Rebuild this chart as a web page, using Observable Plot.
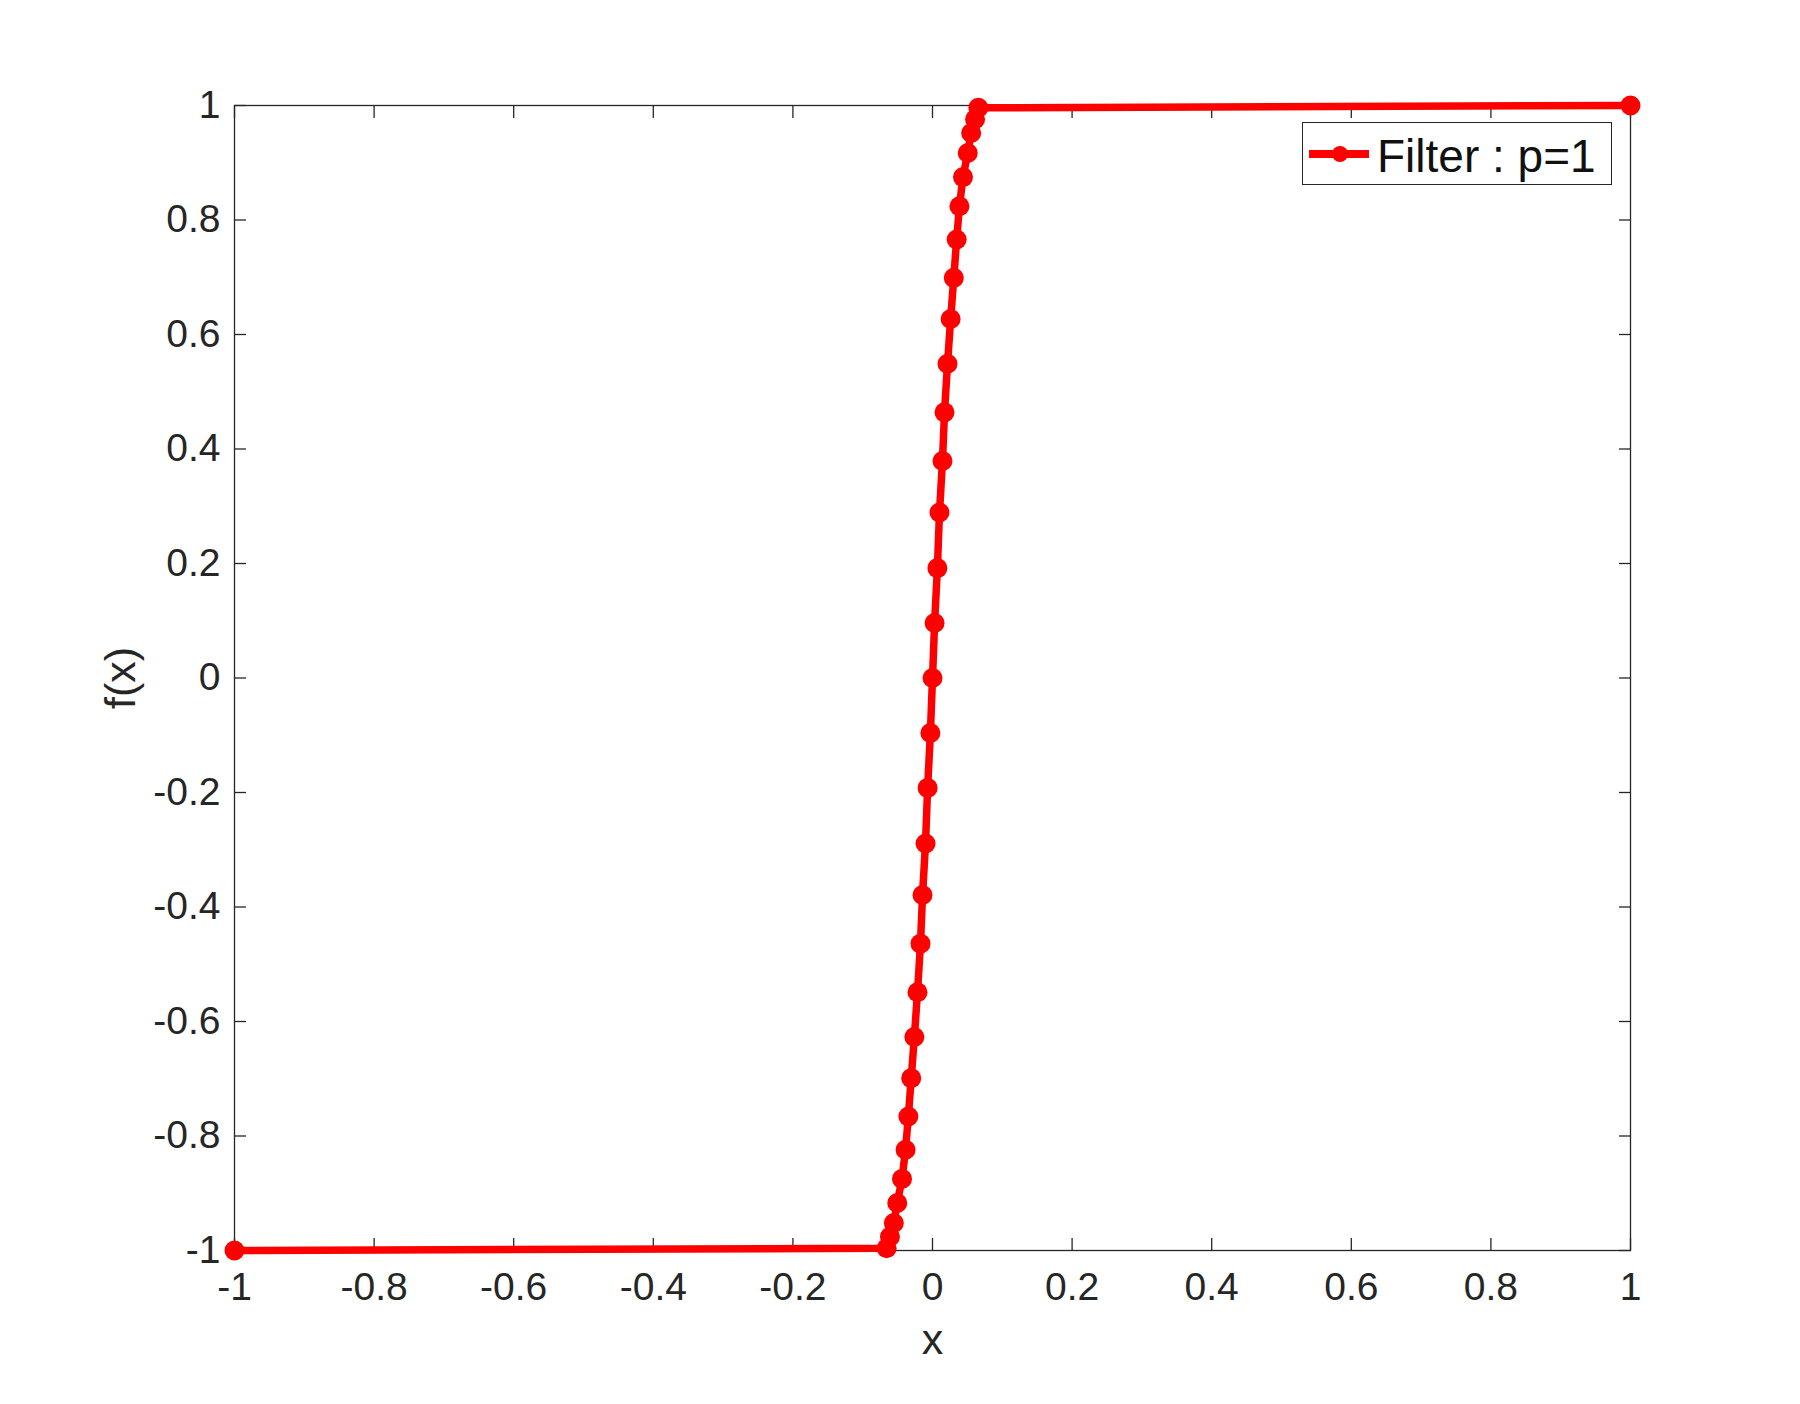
<!DOCTYPE html>
<html>
<head>
<meta charset="utf-8">
<script src="https://cdn.jsdelivr.net/npm/d3@7"></script>
<script src="https://cdn.jsdelivr.net/npm/@observablehq/plot@0.6"></script>
<style>
  html, body { margin: 0; padding: 0; background: #fff; }
  #wrap { position: relative; width: 1800px; height: 1404px; }
  #legend {
    position: absolute; left: 1302px; top: 122px; width: 310px; height: 63px;
    border: 1.3px solid #262626; background: #fff; box-sizing: border-box;
    font-family: 'Liberation Sans', Arial, Helvetica, sans-serif;
  }
</style>
</head>
<body>
<div id="wrap"></div>
<script>
// Data
const xValues = [-1, -0.0657, -0.061, -0.0554, -0.0505, -0.0437, -0.0386, -0.0346, -0.0305, -0.026, -0.0215, -0.0172, -0.0143, -0.010, -0.007, -0.003, 0, 0.003, 0.007, 0.010, 0.0143, 0.0172, 0.0215, 0.026, 0.0305, 0.0346, 0.0386, 0.0437, 0.0505, 0.0554, 0.061, 0.0657, 1];
const yValues = [-1, -0.996, -0.976, -0.952, -0.917, -0.875, -0.824, -0.766, -0.699, -0.627, -0.549, -0.464, -0.379, -0.289, -0.192, -0.096, 0, 0.096, 0.192, 0.289, 0.379, 0.464, 0.549, 0.627, 0.699, 0.766, 0.824, 0.875, 0.917, 0.952, 0.976, 0.996, 1];
const xTicks = [-1, -0.8, -0.6, -0.4, -0.2, 0, 0.2, 0.4, 0.6, 0.8, 1];
const yTicks = [-1, -0.8, -0.6, -0.4, -0.2, 0, 0.2, 0.4, 0.6, 0.8, 1];
const seriesName = "Filter : p=1";
const xLabel = "x";
const yLabel = "f(x)";

const data = xValues.map((x, i) => ({x, y: yValues[i]}));
const axisColor = "#262626";
const red = "#ff0000";
const fmt = d => String(d);

const chart = Plot.plot({
  width: 1800,
  height: 1404,
  marginLeft: 234,
  marginRight: 170,
  marginTop: 105,
  marginBottom: 154,
  style: {fontFamily: "'Liberation Sans', Arial, Helvetica, sans-serif", fontSize: "39px", color: axisColor, background: "#fff"},
  x: {domain: [-1, 1]},
  y: {domain: [-1, 1]},
  marks: [
    // inward ticks on all four sides
    Plot.axisX(xTicks, {anchor: "bottom", tickSize: 12, dy: -12, fill: "none", stroke: axisColor, strokeWidth: 1.3}),
    Plot.axisX(xTicks, {anchor: "top", tickSize: 12, dy: 12, fill: "none", stroke: axisColor, strokeWidth: 1.3}),
    Plot.axisY(yTicks, {anchor: "left", tickSize: 12, dx: 12, fill: "none", stroke: axisColor, strokeWidth: 1.3}),
    Plot.axisY(yTicks, {anchor: "right", tickSize: 12, dx: -12, fill: "none", stroke: axisColor, strokeWidth: 1.3}),
    // tick labels
    Plot.axisX(xTicks, {anchor: "bottom", tickSize: 0, tickPadding: 22, tickFormat: fmt, label: null, fill: axisColor, fontSize: 39}),
    Plot.axisY(yTicks, {anchor: "left", tickSize: 0, tickPadding: 14, tickFormat: fmt, label: null, fill: axisColor, fontSize: 39}),
    Plot.frame({stroke: axisColor, strokeWidth: 1.3}),
    // axis titles
    Plot.text([xLabel], {text: d => d, frameAnchor: "bottom", textAnchor: "middle", dy: 103, lineAnchor: "bottom", fontSize: 43, fill: axisColor}),
    Plot.text([yLabel], {text: d => d, frameAnchor: "left", textAnchor: "middle", dx: -100, rotate: -90, lineAnchor: "bottom", fontSize: 43, fill: axisColor}),
    // series
    Plot.line(data, {x: "x", y: "y", stroke: red, strokeWidth: 7.5, strokeLinejoin: "round"}),
    Plot.dot(data, {x: "x", y: "y", r: 10, fill: red, stroke: "none"})
  ]
});

const wrap = document.getElementById("wrap");
wrap.appendChild(chart);

const legend = document.createElement("div");
legend.id = "legend";
legend.innerHTML = `<svg width="308" height="61" style="display:block">
  <line x1="6" y1="31" x2="66" y2="31" stroke="${red}" stroke-width="8"></line>
  <circle cx="37" cy="31" r="8" fill="${red}"></circle>
  <text x="74" y="49" font-size="46" fill="#111" font-family="'Liberation Sans', Arial, Helvetica, sans-serif">${seriesName}</text>
</svg>`;
wrap.appendChild(legend);
</script>
</body>
</html>
